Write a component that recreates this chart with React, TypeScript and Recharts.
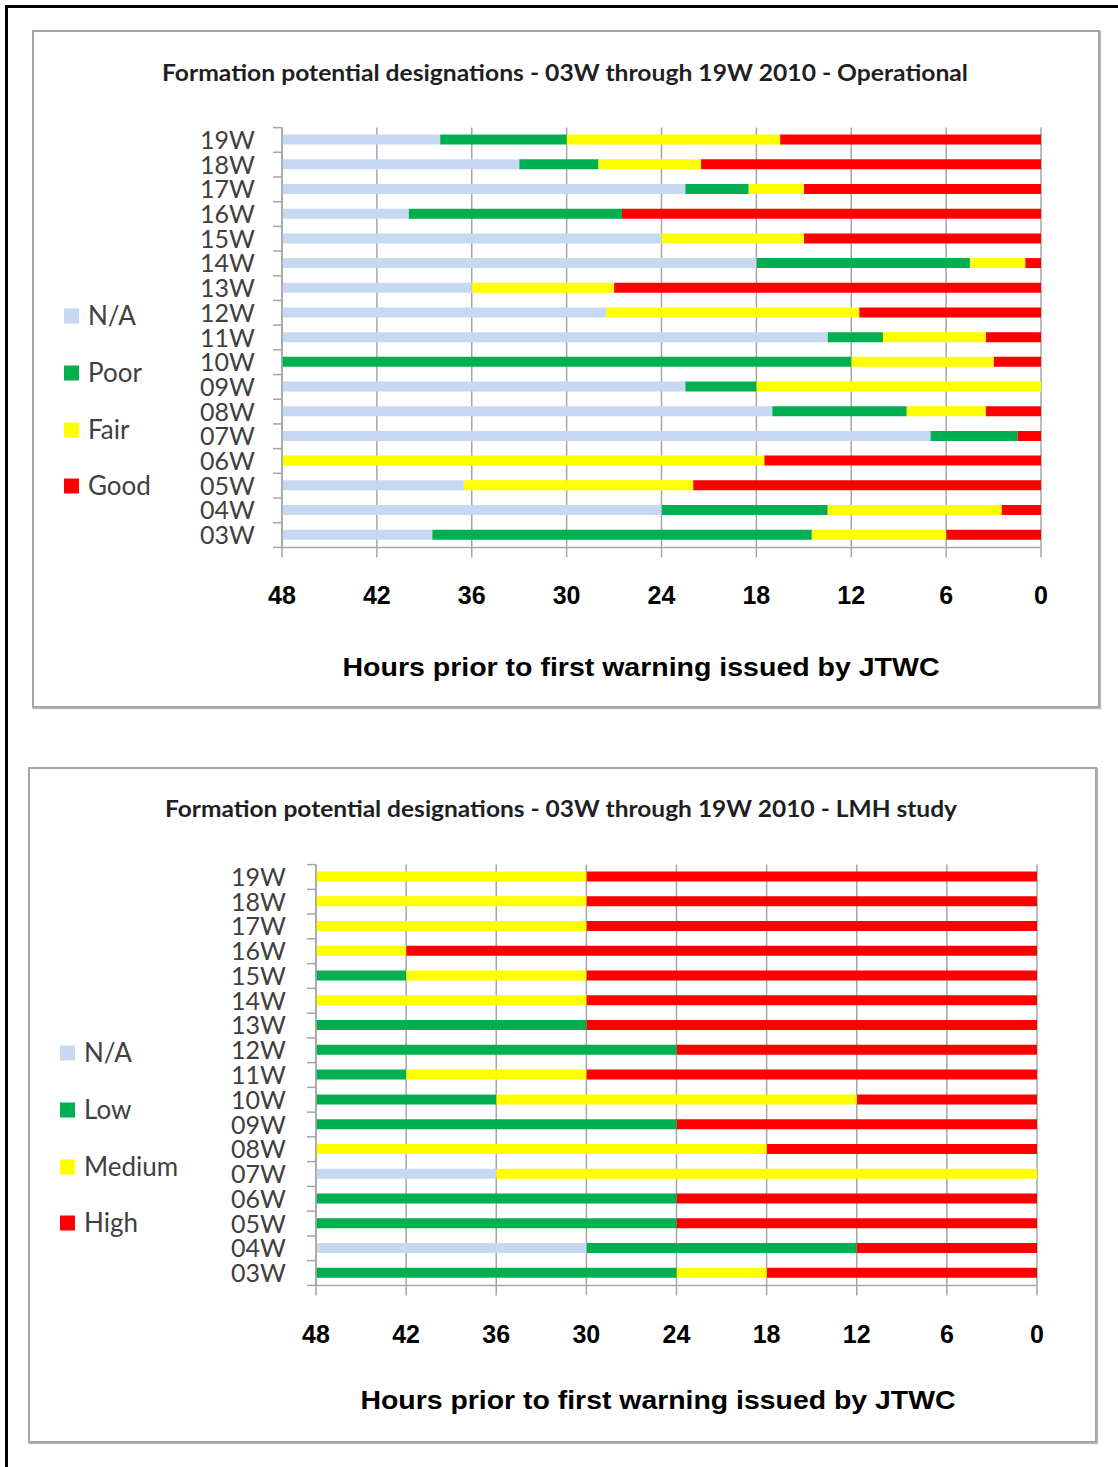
import React from 'react';
import { BarChart, Bar, XAxis, YAxis, CartesianGrid } from 'recharts';

const categories = ['03W', '04W', '05W', '06W', '07W', '08W', '09W', '10W', '11W', '12W', '13W', '14W', '15W', '16W', '17W', '18W', '19W'];
const hourTicks = [0, 6, 12, 18, 24, 30, 36, 42, 48];

// Operational designations (hours of each designation, 48 h window)
const opNames = ['N/A', 'Poor', 'Fair', 'Good'];
const opNA = [9.5, 24, 11.5, 0, 41, 31, 25.5, 0, 34.5, 20.5, 12, 30, 24, 8, 25.5, 15, 10];
const opPoor = [24, 10.5, 0, 0, 5.5, 8.5, 4.5, 36, 3.5, 0, 0, 13.5, 0, 13.5, 4, 5, 8];
const opFair = [8.5, 11, 14.5, 30.5, 0, 5, 18, 9, 6.5, 16, 9, 3.5, 9, 0, 3.5, 6.5, 13.5];
const opGood = [6, 2.5, 22, 17.5, 1.5, 3.5, 0, 3, 3.5, 11.5, 27, 1, 15, 26.5, 15, 21.5, 16.5];

// LMH study designations
const lmhNames = ['N/A', 'Low', 'Medium', 'High'];
const lmhNA = [0, 18, 0, 0, 12, 0, 0, 0, 0, 0, 0, 0, 0, 0, 0, 0, 0];
const lmhLow = [24, 18, 24, 24, 0, 0, 24, 12, 6, 24, 18, 0, 6, 0, 0, 0, 0];
const lmhMedium = [6, 0, 0, 0, 36, 30, 0, 24, 12, 0, 0, 18, 12, 6, 18, 18, 18];
const lmhHigh = [18, 12, 24, 24, 0, 18, 24, 12, 30, 24, 30, 30, 30, 42, 30, 30, 30];

const seriesColors = ['#C6D9F1', '#00B050', '#FFFF00', '#FF0000'];

const GRID = '#a6a6a6';
const LABEL_FONT = 'Lato, "Open Sans", sans-serif';
const AXIS_FONT = '"Liberation Sans", Arial, sans-serif';

type Cfg = {
  box: { left: number; top: number; width: number; height: number };
  margin: { top: number; right: number; left: number; bottom: number };
  yAxisWidth: number;
  xAxisHeight: number;
  yTickMargin: number;
  xTickMargin: number;
  title: string;
  titleX: number;
  titleY: number;
  titleLen: number;
  axisTitle: string;
  axisTitleDx: number;
  axisTitleOffset: number;
  axisTitleLen: number;
  legendSquareX: number;
  legendTextX: number;
  legendY: number[];
  names: string[];
  values: number[][];
};

function makeYTick(tickMargin: number, tickSize: number, half: number) {
  return (props: any) => {
    const { x, y, payload, index } = props;
    const ax = x + tickMargin + tickSize;
    const h = payload && typeof payload.offset === 'number' && payload.offset > 0 ? payload.offset : half;
    return (
      <g>
        <line x1={ax - tickSize} x2={ax} y1={y - h} y2={y - h} stroke={GRID} strokeWidth={1.5} />
        {index === 0 ? (
          <line x1={ax - tickSize} x2={ax} y1={y + h} y2={y + h} stroke={GRID} strokeWidth={1.5} />
        ) : null}
        <text x={x} y={y} dy="0.36em" textAnchor="end" fill="#404040" fontSize={25} fontFamily={LABEL_FONT}>
          {payload.value}
        </text>
      </g>
    );
  };
}

function Panel({ cfg }: { cfg: Cfg }) {
  const data = categories.map((c, i) => {
    const row: any = { name: c };
    cfg.values.forEach((arr, k) => {
      row['s' + k] = arr[i];
    });
    return row;
  });
  const plotH = cfg.box.height - cfg.margin.top - cfg.margin.bottom - cfg.xAxisHeight;
  const half = plotH / categories.length / 2;
  const YTick = makeYTick(cfg.yTickMargin, 9, half);
  const order = [3, 2, 1, 0];
  return (
    <>
      <div
        style={{
          position: 'absolute',
          left: cfg.box.left,
          top: cfg.box.top,
          width: cfg.box.width,
          height: cfg.box.height,
          border: '2px solid #a6a6a6',
          boxSizing: 'border-box',
          boxShadow: '1px 1px 1px #bbbbbb',
        }}
      />
      <div style={{ position: 'absolute', left: cfg.box.left, top: cfg.box.top }}>
        <BarChart
          width={cfg.box.width}
          height={cfg.box.height}
          data={data}
          layout="vertical"
          margin={cfg.margin}
          barSize={10}
        >
          <CartesianGrid horizontal={false} stroke={GRID} strokeWidth={1.5} />
          <XAxis
            type="number"
            domain={[0, 48]}
            ticks={hourTicks}
            interval={0}
            reversed
            height={cfg.xAxisHeight}
            tickSize={10}
            tickMargin={cfg.xTickMargin}
            axisLine={{ stroke: GRID, strokeWidth: 1.5 }}
            tickLine={{ stroke: GRID, strokeWidth: 1.5 }}
            tick={{ fill: '#000', fontSize: 25, fontWeight: 700, fontFamily: AXIS_FONT }}
            label={{
              content: (p: any) => {
                const vb = p.viewBox || { x: 0, y: 0, width: 0, height: 0 };
                return (
                  <text
                    x={vb.x + vb.width / 2 + cfg.axisTitleDx}
                    y={vb.y + vb.height - cfg.axisTitleOffset}
                    textAnchor="middle"
                    fill="#000"
                    fontSize={25}
                    fontWeight={700}
                    fontFamily={AXIS_FONT}
                    textLength={cfg.axisTitleLen}
                    lengthAdjust="spacingAndGlyphs"
                  >
                    {cfg.axisTitle}
                  </text>
                );
              },
            }}
          />
          <YAxis
            type="category"
            dataKey="name"
            reversed
            width={cfg.yAxisWidth}
            interval={0}
            tickSize={9}
            tickMargin={cfg.yTickMargin}
            tickLine={false}
            axisLine={{ stroke: GRID, strokeWidth: 1.5 }}
            tick={YTick}
          />
          {order.map((k) => (
            <Bar
              key={k}
              dataKey={'s' + k}
              name={cfg.names[k]}
              stackId="a"
              fill={seriesColors[k]}
              isAnimationActive={false}
            />
          ))}
        </BarChart>
      </div>
      <svg
        width={1118}
        height={1467}
        style={{ position: 'absolute', left: 0, top: 0, pointerEvents: 'none' }}
      >
        <text
          x={cfg.titleX}
          y={cfg.titleY}
          dy="0.35em"
          textAnchor="middle"
          fill="#1f1f1f"
          fontSize={23}
          fontWeight={700}
          fontFamily={LABEL_FONT}
          textLength={cfg.titleLen}
          lengthAdjust="spacingAndGlyphs"
        >
          {cfg.title}
        </text>
        {cfg.names.map((n, k) => (
          <g key={n}>
            <rect x={cfg.legendSquareX} y={cfg.legendY[k] - 7.5} width={15} height={15} fill={seriesColors[k]} />
            <text
              x={cfg.legendTextX}
              y={cfg.legendY[k]}
              dy="0.35em"
              fill="#404040"
              fontSize={26}
              fontFamily={LABEL_FONT}
            >
              {n}
            </text>
          </g>
        ))}
      </svg>
    </>
  );
}

const topCfg: Cfg = {
  box: { left: 32, top: 30, width: 1068, height: 678 },
  margin: { top: 97.6, right: 59, left: 190, bottom: 0 },
  yAxisWidth: 60,
  xAxisHeight: 160.6,
  yTickMargin: 18,
  xTickMargin: 29,
  title: 'Formation potential designations - 03W through 19W 2010 - Operational',
  titleX: 565,
  titleY: 73,
  titleLen: 806,
  axisTitle: 'Hours prior to first warning issued by JTWC',
  axisTitleDx: -20.5,
  axisTitleOffset: 32,
  axisTitleLen: 597,
  legendSquareX: 64,
  legendTextX: 88,
  legendY: [316, 373, 430, 486],
  names: opNames,
  values: [opNA, opPoor, opFair, opGood],
};

const bottomCfg: Cfg = {
  box: { left: 28, top: 767, width: 1069, height: 676 },
  margin: { top: 97.6, right: 60, left: 228, bottom: 0 },
  yAxisWidth: 60,
  xAxisHeight: 157.6,
  yTickMargin: 21,
  xTickMargin: 30,
  title: 'Formation potential designations - 03W through 19W 2010 - LMH study',
  titleX: 561,
  titleY: 809,
  titleLen: 792,
  axisTitle: 'Hours prior to first warning issued by JTWC',
  axisTitleDx: -18.5,
  axisTitleOffset: 34,
  axisTitleLen: 595,
  legendSquareX: 60,
  legendTextX: 84,
  legendY: [1053, 1110, 1167, 1223],
  names: lmhNames,
  values: [lmhNA, lmhLow, lmhMedium, lmhHigh],
};

export default function App() {
  return (
    <div
      style={{
        position: 'absolute',
        left: 0,
        top: 0,
        width: 1118,
        height: 1467,
        background: '#ffffff',
        overflow: 'hidden',
      }}
    >
      <div
        style={{
          position: 'absolute',
          left: 5,
          top: 5,
          width: 1113,
          height: 1462,
          borderTop: '3px solid #000',
          borderLeft: '3px solid #000',
          boxSizing: 'border-box',
        }}
      />
      <Panel cfg={topCfg} />
      <Panel cfg={bottomCfg} />
    </div>
  );
}
